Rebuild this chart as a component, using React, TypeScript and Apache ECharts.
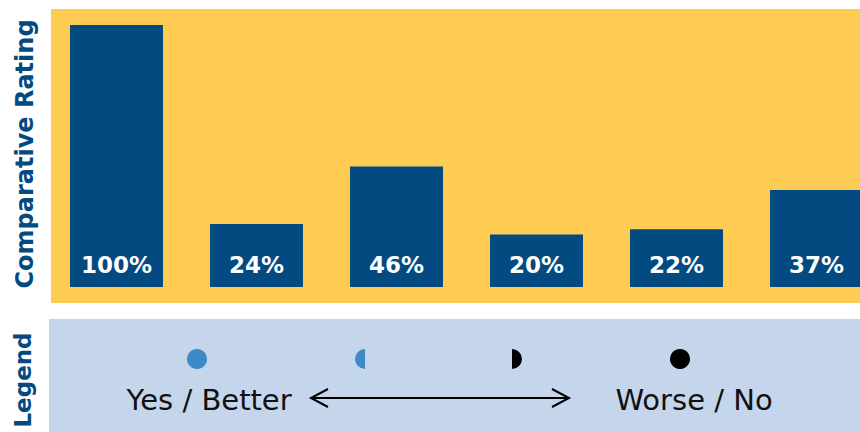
import React, { useEffect, useRef } from "react";
import * as echarts from "echarts";

const categories = ["1", "2", "3", "4", "5", "6"];
const ratings = [100, 24, 46, 20, 22, 37];
const yAxisTitle = "Comparative Rating";
const legendTitle = "Legend";
const legendLeftText = "Yes / Better";
const legendRightText = "Worse / No";

const YELLOW = "#FECC52";
const BAR = "#034A80";
const LEGEND_BG = "#C5D6EC";
const LIGHT_BLUE = "#3D8AC6";

export default function App() {
  const ref = useRef<HTMLDivElement>(null);
  useEffect(() => {
    if (!ref.current) return;
    const chart = echarts.init(ref.current, undefined, { renderer: "svg" });
    const font = "'DejaVu Sans', sans-serif";
    chart.setOption({
      animation: false,
      grid: {
        left: 46.5,
        right: -26.5,
        top: 25,
        bottom: 145,
        containLabel: false,
        outerBoundsMode: "none",
      },
      xAxis: {
        type: "category",
        data: categories,
        show: false,
      },
      yAxis: {
        type: "value",
        min: 0,
        max: 100,
        show: false,
      },
      graphic: [
        {
          type: "rect",
          z: -10,
          silent: true,
          shape: { x: 51, y: 9, width: 809, height: 294 },
          style: { fill: YELLOW },
        },
        {
          type: "rect",
          z: -10,
          silent: true,
          shape: { x: 49, y: 319, width: 811, height: 113 },
          style: { fill: LEGEND_BG },
        },
        {
          type: "text",
          x: 25,
          y: 154,
          rotation: Math.PI / 2,
          style: {
            text: yAxisTitle,
            fill: BAR,
            font: `bold 24px ${font}`,
            textAlign: "center",
            textVerticalAlign: "middle",
          },
        },
        {
          type: "text",
          x: 23,
          y: 380,
          rotation: Math.PI / 2,
          style: {
            text: legendTitle,
            fill: BAR,
            font: `bold 23px ${font}`,
            textAlign: "center",
            textVerticalAlign: "middle",
          },
        },
        {
          type: "circle",
          shape: { cx: 197, cy: 359, r: 10 },
          style: { fill: LIGHT_BLUE },
        },
        {
          type: "sector",
          shape: { cx: 365, cy: 359, r: 10, r0: 0, startAngle: Math.PI / 2, endAngle: (3 * Math.PI) / 2, clockwise: true },
          style: { fill: LIGHT_BLUE },
        },
        {
          type: "sector",
          shape: { cx: 512, cy: 359, r: 10, r0: 0, startAngle: -Math.PI / 2, endAngle: Math.PI / 2, clockwise: true },
          style: { fill: "#000" },
        },
        {
          type: "circle",
          shape: { cx: 680, cy: 359, r: 10 },
          style: { fill: "#000" },
        },
        {
          type: "text",
          x: 209,
          y: 400,
          style: {
            text: legendLeftText,
            fill: "#111",
            font: `normal 29px ${font}`,
            textAlign: "center",
            textVerticalAlign: "middle",
          },
        },
        {
          type: "text",
          x: 694,
          y: 400,
          style: {
            text: legendRightText,
            fill: "#111",
            font: `normal 29px ${font}`,
            textAlign: "center",
            textVerticalAlign: "middle",
          },
        },
        {
          type: "line",
          shape: { x1: 311, y1: 398, x2: 569, y2: 398 },
          style: { stroke: "#000", lineWidth: 2 },
        },
        {
          type: "polyline",
          shape: { points: [[328, 389], [311, 398], [328, 407]] },
          style: { stroke: "#000", lineWidth: 2, fill: null },
        },
        {
          type: "polyline",
          shape: { points: [[552, 389], [569, 398], [552, 407]] },
          style: { stroke: "#000", lineWidth: 2, fill: null },
        },
      ],
      series: [
        {
          type: "bar",
          data: ratings,
          barCategoryGap: "33.6%",
          itemStyle: { color: BAR },
          label: {
            show: true,
            position: "insideBottom",
            distance: 11,
            formatter: "{c}%",
            color: "#fff",
            fontWeight: "bold",
            fontSize: 23,
            fontFamily: font,
          },
        },
      ],
    });
    return () => chart.dispose();
  }, []);
  return (
    <div
      ref={ref}
      style={{ position: "fixed", left: 0, top: 0, width: 860, height: 432, background: "#fff" }}
    />
  );
}
